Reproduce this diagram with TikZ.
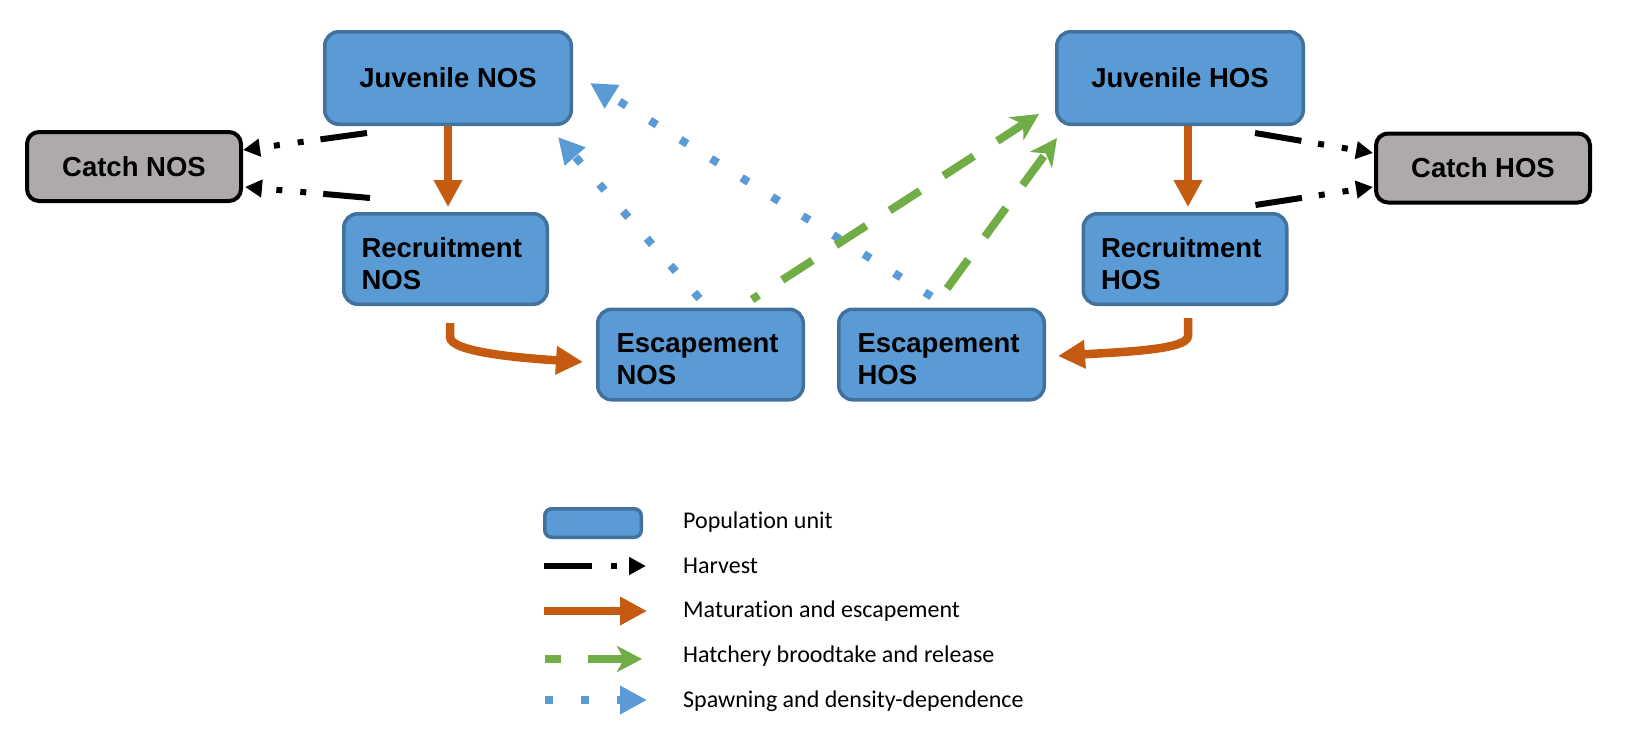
\documentclass[tikz,border=0pt]{standalone}
\usepackage{fontspec}
\setmainfont{Liberation Sans}
\newfontfamily\legfont[Ligatures=NoCommon]{Carlito}
\usetikzlibrary{arrows.meta,calc}
\definecolor{boxfill}{RGB}{91,155,213}
\definecolor{boxline}{RGB}{65,113,156}
\definecolor{catchfill}{RGB}{174,170,170}
\definecolor{matcol}{RGB}{197,90,17}
\definecolor{hatcol}{RGB}{112,173,71}
\definecolor{spawncol}{RGB}{91,155,213}
\begin{document}
\begin{tikzpicture}[x=1pt,y=-1pt,
  pop/.style={draw=boxline, fill=boxfill, line width=3.5pt, rounded corners=14pt, inner sep=0pt,
    font=\bfseries\fontsize{27.5}{32}\selectfont},
  popone/.style={pop, minimum width=246.5pt, minimum height=92.5pt, align=center},
  poptwo/.style={pop, minimum width=203.5pt, minimum height=90.5pt, text width=168pt, align=left},
  catchbox/.style={draw=black, fill=catchfill, line width=4pt, rounded corners=12pt, inner sep=0pt,
    minimum width=214pt, minimum height=69pt, font=\bfseries\fontsize{27.5}{32}\selectfont},
  legbox/.style={draw=boxline, fill=boxfill, line width=3.5pt, rounded corners=7pt, inner sep=0pt,
    minimum width=96.5pt, minimum height=28.5pt},
  legtext/.style={anchor=base west, inner sep=0pt, font=\legfont\fontsize{24}{28}\selectfont},
  harv/.style={line width=6pt, black, dash pattern=on 47pt off 17pt on 6pt off 18pt on 6pt off 300pt,
    -{Triangle[length=17pt,width=17pt]}},
  mat/.style={matcol, line width=8.5pt, -{Triangle[length=27pt,width=27pt]}},
  hat/.style={hatcol, line width=8pt, dash pattern=on 36pt off 28pt,
    -{Stealth[length=27pt,width=27pt,inset=8pt]}},
  spawn/.style={spawncol, line width=8pt, dash pattern=on 8pt off 28pt,
    -{Triangle[length=26pt,width=26pt]}}
]
\useasboundingbox (0,0) rectangle (1634,747);

% population units
\node[popone] (juvN) at (448,78) {Juvenile NOS};
\node[popone] (juvH) at (1180,78) {Juvenile HOS};
\node[poptwo] (recN) at (445.5,259) {\rule{0pt}{29pt}Recruitment\\NOS};
\node[poptwo] (recH) at (1185,259) {\rule{0pt}{29pt}Recruitment\\HOS};
\node[poptwo, minimum width=205.5pt] (escN) at (700.5,354.5) {\rule{0pt}{29pt}Escapement\\NOS};
\node[poptwo, minimum width=205.5pt] (escH) at (941.5,354.5) {\rule{0pt}{29pt}Escapement\\HOS};
\node[catchbox] (catchN) at (134,166.5) {Catch NOS};
\node[catchbox] (catchH) at (1483,168) {Catch HOS};

% harvest
\draw[harv] ([shift={(44,7)}]juvN.south west) -- ([shift={(0,-16.5)}]catchN.east);
\draw[harv] ([shift={(28,-14)}]recN.north west) -- ([shift={(2,20.5)}]catchN.east);
\draw[harv] ([shift={(-50,7)}]juvH.south east) -- ([shift={(-1,-15)}]catchH.west);
\draw[harv] ([shift={(-33,-7)}]recH.north east) -- ([shift={(-1,19)}]catchH.west);

% maturation and escapement
\draw[mat] (juvN.south) -- ($(juvN.south |- recN.north)+(0,-5)$);
\draw[mat] ([shift={(8,0)}]juvH.south) -- ($([shift={(8,0)}]juvH.south |- recH.north)+(0,-5)$);
\draw[mat] ([shift={(4.5,17)}]recN.south) -- ++(0,14) .. controls ++(0,15) and (520,358) .. ([shift={(-13,7.5)}]escN.west);
\draw[mat] ([shift={(3,12)}]recH.south) -- ++(0,18) .. controls ++(0,14) and (1120,352) .. ([shift={(12,1.5)}]escH.east);

% spawning and density-dependence
\draw[spawn] ([shift={(-10,-11)}]escH.north) -- ([shift={(17,5)}]juvN.east);
\draw[spawn] ([shift={(-1,-9)}]escN.north) -- ([shift={(-15,11)}]juvN.south east);

% hatchery broodtake and release
\draw[hat, dash phase=28pt] ([shift={(51.5,-8)}]escN.north) -- ([shift={(-16,-12)}]juvH.south west);
\draw[hat] ([shift={(5.5,-19)}]escH.north) -- ([shift={(2,12)}]juvH.south west);

% legend
\node[legbox] (lbox) at (593,523) {};
\node[legtext] (lt1) at (683,528.3) {Population unit};
\node[legtext] (lt2) at (683,573.3) {Harvest};
\node[legtext] (lt3) at (683,617.7) {Maturation and escapement};
\node[legtext] (lt4) at (683,662.7) {Hatchery broodtake and release};
\node[legtext] (lt5) at (683,707.5) {Spawning and density-dependence};

\coordinate (h1) at (544,566);
\coordinate (h2) at (646,566);
\coordinate (m1) at (544,611);
\coordinate (m2) at (647,611);
\coordinate (g1) at (545,659);
\coordinate (g2) at (642,659);
\coordinate (s1) at (545,700);
\coordinate (s2) at (647,700);
\draw[harv, dash pattern=on 48pt off 19pt on 6pt off 100pt] (h1) -- (h2);
\draw[mat] (m1) -- (m2);
\draw[hat, dash pattern=on 16pt off 27pt on 100pt, -{Stealth[length=25pt,width=26pt,inset=7pt]}] (g1) -- (g2);
\draw[spawn, dash pattern=on 8pt off 28pt on 8pt off 28pt on 100pt, -{Triangle[length=27pt,width=27pt]}] (s1) -- (s2);
\end{tikzpicture}
\end{document}
